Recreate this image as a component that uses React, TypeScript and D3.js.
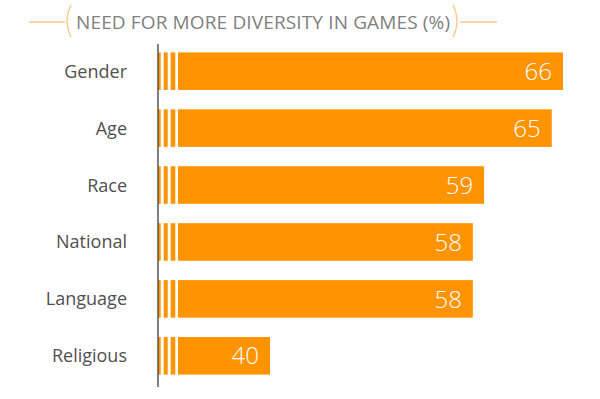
import * as d3 from "d3";

const categories = ["Gender", "Age", "Race", "National", "Language", "Religious"];
const values = [66, 65, 59, 58, 58, 40];
const title = "NEED FOR MORE DIVERSITY IN GAMES (%)";

const ORANGE = "#ff9300";
const W = 600;
const H = 399;

// bars are drawn on a broken axis, so the scale starts at the smallest value
const x = d3.scaleLinear().domain([40, 66]).range([270, 563]);
const y = d3.scaleBand().domain(categories).range([41, 386]).paddingInner(0.34).paddingOuter(0.2);

const AXIS_X = 158;
const STRIPES = [
  [0, 2.7],
  [5.7, 9.7],
  [12.7, 17.3],
];
const MAIN_START = 20;

export default function App() {
  const font = "'Open Sans', 'Lato', sans-serif";
  return (
    <svg width={W} height={H} style={{ position: "absolute", left: 0, top: 0, background: "#fff" }}>
      {/* title with bracket ornaments */}
      <g>
        <line x1={29} x2={65} y1={22} y2={22} stroke="#fbc98a" strokeWidth={1.3} />
        <line x1={460} x2={497} y1={22} y2={22} stroke="#fbc98a" strokeWidth={1.3} />
        <path d="M71,5 Q63,21 71,37" fill="none" stroke="#fbc98a" strokeWidth={1.3} />
        <path d="M453,5 Q461,21 453,37" fill="none" stroke="#fbc98a" strokeWidth={1.3} />
        <text
          x={76}
          y={28.5}
          textLength={374}
          lengthAdjust="spacing"
          fill="#808080"
          style={{ fontFamily: font, fontSize: 19, fontWeight: 400 }}
        >
          {title}
        </text>
      </g>

      {categories.map((c, i) => {
        const top = y(c) ?? 0;
        const h = y.bandwidth();
        const end = x(values[i]);
        return (
          <g key={c}>
            {STRIPES.map(([a, b], j) => (
              <rect key={j} x={AXIS_X + a} y={top} width={b - a} height={h} fill={ORANGE} />
            ))}
            <rect x={AXIS_X + MAIN_START} y={top} width={end - AXIS_X - MAIN_START} height={h} fill={ORANGE} />
            <text
              x={end - 11}
              y={top + h / 2}
              dy="0.36em"
              textAnchor="end"
              fill="#fff"
              style={{ fontFamily: font, fontSize: 24, fontWeight: 300 }}
            >
              {values[i]}
            </text>
            <text
              x={127}
              y={top + h / 2}
              dy="0.36em"
              textAnchor="end"
              fill="#505050"
              style={{ fontFamily: font, fontSize: 18 }}
            >
              {c}
            </text>
          </g>
        );
      })}

      <line x1={AXIS_X} x2={AXIS_X} y1={44} y2={387} stroke="#555" strokeWidth={1.5} />
    </svg>
  );
}
